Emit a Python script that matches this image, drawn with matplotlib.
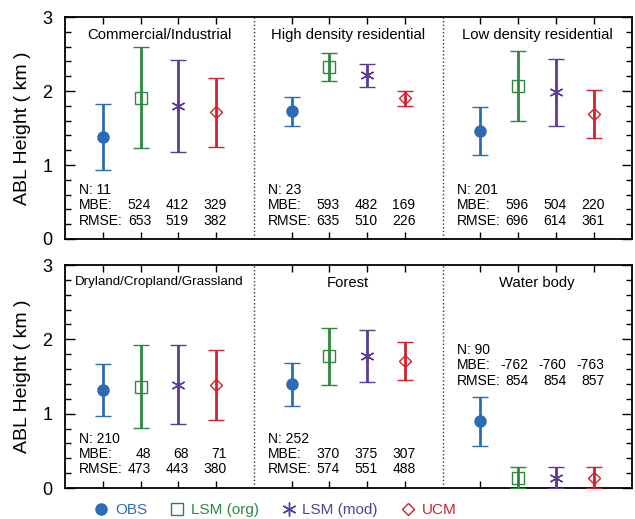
import numpy as np
import matplotlib
matplotlib.use('Agg')
import matplotlib.pyplot as plt
from matplotlib.ticker import MultipleLocator
from matplotlib.lines import Line2D

plt.rcParams['font.family'] = ['Liberation Sans', 'DejaVu Sans']

# land use groups, 3 per panel
groups = ['Commercial/Industrial', 'High density residential', 'Low density residential',
          'Dryland/Cropland/Grassland', 'Forest', 'Water body']

series = ['OBS', 'LSM (org)', 'LSM (mod)', 'UCM']
colors = ['#2b6cb4', '#2a8a3c', '#5b3b98', '#d3202b']

# mean, upper and lower bound (km) for each group
obs_mean = [1.38, 1.73, 1.46, 1.32, 1.40, 0.90]
obs_hi = [1.83, 1.92, 1.79, 1.67, 1.68, 1.23]
obs_lo = [0.93, 1.53, 1.13, 0.97, 1.11, 0.57]

org_mean = [1.90, 2.33, 2.07, 1.36, 1.78, 0.14]
org_hi = [2.59, 2.52, 2.54, 1.92, 2.15, 0.28]
org_lo = [1.23, 2.14, 1.60, 0.81, 1.39, 0.0]

mod_mean = [1.80, 2.22, 1.98, 1.39, 1.78, 0.14]
mod_hi = [2.42, 2.37, 2.43, 1.92, 2.13, 0.28]
mod_lo = [1.17, 2.05, 1.53, 0.86, 1.42, 0.0]

ucm_mean = [1.71, 1.90, 1.69, 1.39, 1.71, 0.14]
ucm_hi = [2.18, 2.00, 2.01, 1.85, 1.96, 0.28]
ucm_lo = [1.24, 1.80, 1.36, 0.92, 1.45, 0.0]

# statistics text
n_obs = [11, 23, 201, 210, 252, 90]
mbe = [[524, 412, 329], [593, 482, 169], [596, 504, 220],
       [48, 68, 71], [370, 375, 307], [-762, -760, -763]]
rmse = [[653, 519, 382], [635, 510, 226], [696, 614, 361],
        [473, 443, 380], [574, 551, 488], [854, 854, 857]]

means = [obs_mean, org_mean, mod_mean, ucm_mean]
highs = [obs_hi, org_hi, mod_hi, ucm_hi]
lows = [obs_lo, org_lo, mod_lo, ucm_lo]
markers = ['o', 's', (6, 2, 0), 'D']
msizes = [8, 8, 10, 6]

fig = plt.figure(figsize=(6.35, 5.19), dpi=100)
ax1 = fig.add_axes([0.1024, 0.5395, 0.8921, 0.4277])
ax2 = fig.add_axes([0.1024, 0.0597, 0.8921, 0.4297])

for p, ax in enumerate([ax1, ax2]):
    for g in range(3):
        gi = p * 3 + g
        for s in range(4):
            x = g * 5 + s + 1
            m = means[s][gi]
            err = [[m - lows[s][gi]], [highs[s][gi] - m]]
            filled = s == 0
            ax.errorbar(x, m, yerr=err, color=colors[s], marker=markers[s],
                        ms=msizes[s], mfc=colors[s] if filled else 'none',
                        mec=colors[s], mew=1.0, elinewidth=2, capsize=6,
                        capthick=2, zorder=3)

        # panel title
        if gi == 3:
            ax.text(g * 5 + 0.25, 2.77, groups[gi], fontsize=9.6, ha='left', va='center')
        else:
            ax.text(g * 5 + 2.5, 2.76, groups[gi], fontsize=10.7, ha='center', va='center')

        # statistics
        if gi == 5:
            ys = [1.86, 1.65, 1.44]
        else:
            ys = [0.66, 0.46, 0.25]
        x0 = g * 5 + 0.38
        ax.text(x0, ys[0], 'N: %d' % n_obs[gi], fontsize=10, ha='left', va='center')
        ax.text(x0, ys[1], 'MBE:', fontsize=10, ha='left', va='center')
        ax.text(x0, ys[2], 'RMSE:', fontsize=10, ha='left', va='center')
        for c in range(3):
            xr = g * 5 + 2.28 + c
            ax.text(xr, ys[1], str(mbe[gi][c]), fontsize=10, ha='right', va='center')
            ax.text(xr, ys[2], str(rmse[gi][c]), fontsize=10, ha='right', va='center')

    for xd in [5, 10]:
        ax.axvline(xd, color='#333333', lw=1, ls=':', zorder=1)

    ax.set_xlim(0, 15)
    ax.set_ylim(0, 3)
    ax.set_xticks([1, 2, 3, 4, 6, 7, 8, 9, 11, 12, 13, 14])
    ax.set_xticklabels([])
    ax.set_yticks([0, 1, 2, 3])
    ax.yaxis.set_minor_locator(MultipleLocator(0.2))
    ax.tick_params(axis='both', which='both', direction='in', top=True, right=True)
    ax.tick_params(axis='y', which='major', length=7, width=1, labelsize=13, pad=9)
    ax.tick_params(axis='y', which='minor', length=4, width=1)
    ax.tick_params(axis='x', which='major', length=5, width=1)
    for sp in ax.spines.values():
        sp.set_linewidth(1.3)
    ax.set_ylabel('ABL Height ( km )', fontsize=14, labelpad=8)

handles = []
for s in range(4):
    handles.append(Line2D([], [], ls='none', marker=markers[s], ms=msizes[s],
                          color=colors[s], mfc=colors[s] if s == 0 else 'none',
                          mec=colors[s], mew=1.0))

fig.legend(handles, series, loc='center', bbox_to_anchor=(0.433, 1 - 510 / 519),
           ncol=4, frameon=False, fontsize=11, handlelength=1.0,
           handletextpad=0.4, columnspacing=1.45, labelcolor='linecolor')

fig.savefig('out.png', dpi=100)
